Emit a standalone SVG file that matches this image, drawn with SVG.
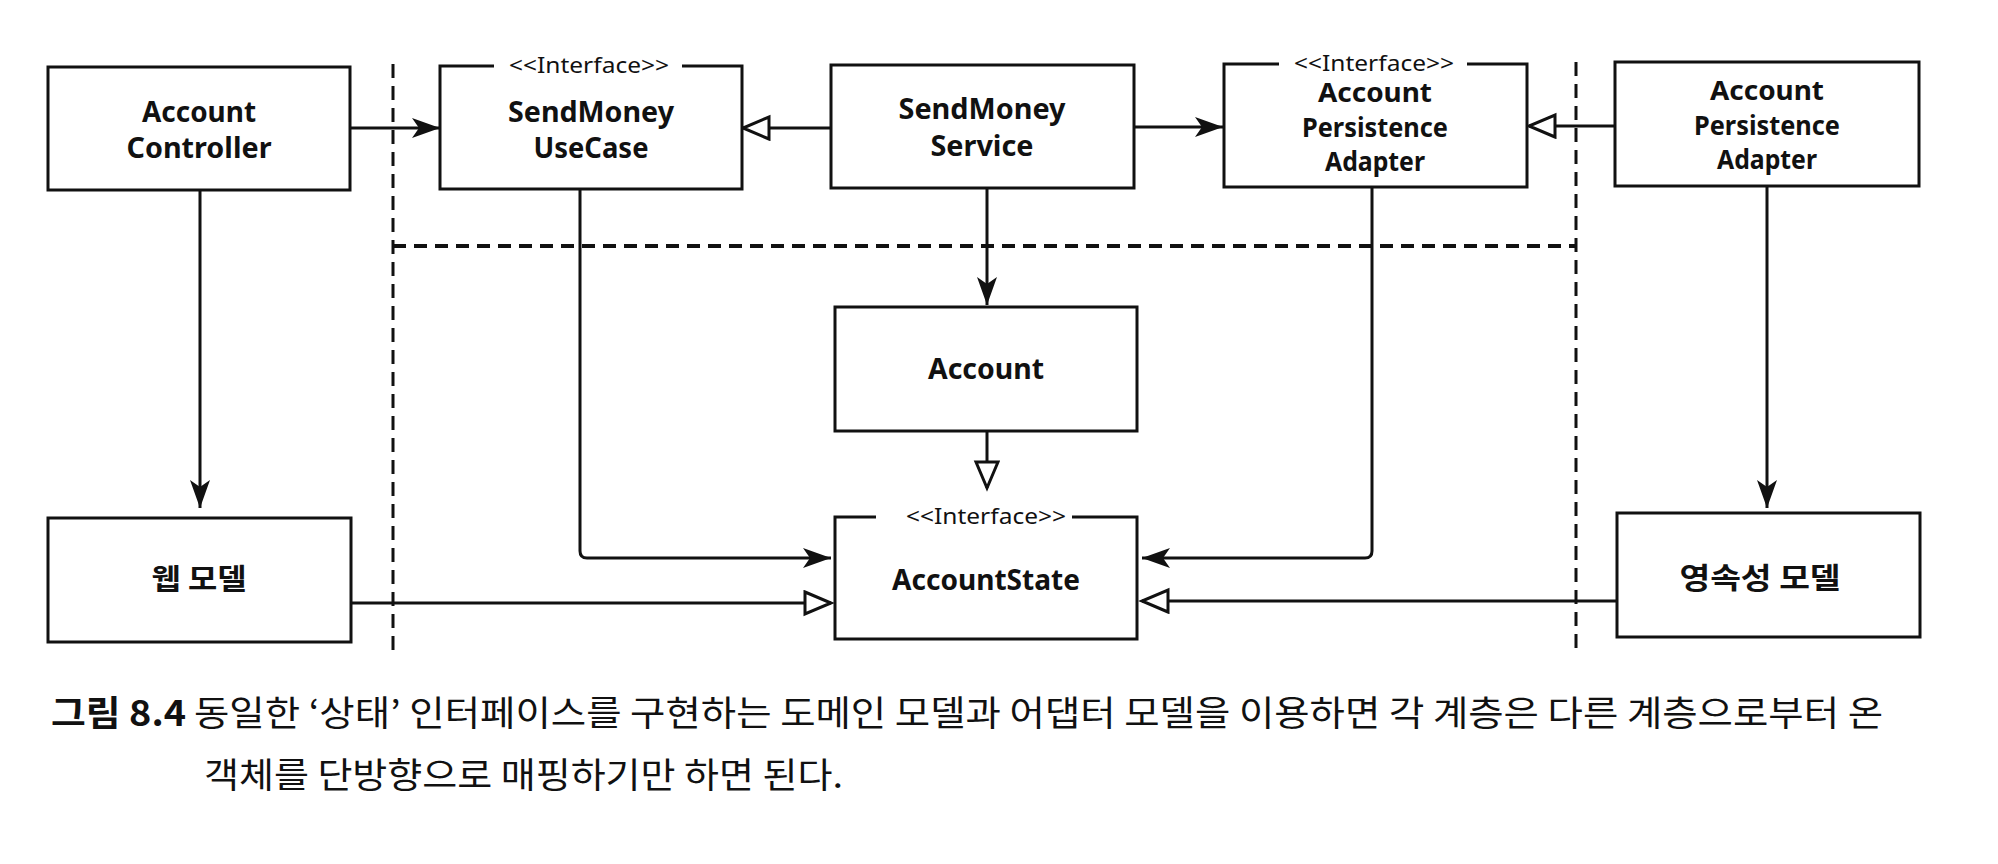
<svg xmlns="http://www.w3.org/2000/svg" width="1998" height="864" viewBox="0 0 1998 864">
<style>
.box{fill:#fff;stroke:#111;stroke-width:3}
.lbl{font-family:"Noto Sans","Liberation Sans",sans-serif;font-weight:bold;font-size:28px;fill:#111;text-anchor:middle}
.lbl3{font-family:"Noto Sans","Liberation Sans",sans-serif;font-weight:bold;font-size:26px;fill:#111;text-anchor:middle}
.kr{font-family:"Noto Sans CJK KR","Noto Sans",sans-serif;font-weight:bold;font-size:29px;fill:#111;text-anchor:middle}
.st{font-family:"Noto Sans","Liberation Sans",sans-serif;font-size:22px;fill:#111;text-anchor:middle}
.gap{fill:#fff;stroke:none}
.con{fill:none;stroke:#111;stroke-width:3}
.dash{fill:none;stroke:#111;stroke-width:3;stroke-dasharray:14 8}
.dashh{fill:none;stroke:#111;stroke-width:4;stroke-dasharray:13 8}
.cap{font-family:"Noto Sans CJK KR",sans-serif;font-size:35px;fill:#111}
</style>
<defs>
<marker id="fa" markerUnits="userSpaceOnUse" markerWidth="30" markerHeight="22" refX="28" refY="10" orient="auto">
<path d="M0,0 L28,10 L0,20 L7,10 Z" fill="#111"/>
</marker>
<marker id="ha" markerUnits="userSpaceOnUse" markerWidth="32" markerHeight="28" refX="28" refY="13" orient="auto">
<path d="M2,2 L28,13 L2,24 Z" fill="#fff" stroke="#111" stroke-width="3"/>
</marker>
</defs>
<rect width="1998" height="864" fill="#fff"/>

<g id="boundaries">
<line class="dash" x1="393" y1="64" x2="393" y2="656"/>
<line class="dash" x1="1576" y1="62" x2="1576" y2="652"/>
<line class="dashh" x1="393" y1="246" x2="1576" y2="246"/>
</g>

<g id="connectors">
<path class="con" d="M350,128 L440,128" marker-end="url(#fa)"/>
<path class="con" d="M831,128 L743,128" marker-end="url(#ha)"/>
<path class="con" d="M1134,127 L1223,127" marker-end="url(#fa)"/>
<path class="con" d="M1615,126 L1529,126" marker-end="url(#ha)"/>
<path class="con" d="M200,190 L200,508" marker-end="url(#fa)"/>
<path class="con" d="M987,188 L987,305" marker-end="url(#fa)"/>
<path class="con" d="M580,189 L580,551 Q580,558 587,558 L831,558" marker-end="url(#fa)"/>
<path class="con" d="M1372,187 L1372,551 Q1372,558 1365,558 L1142,558" marker-end="url(#fa)"/>
<path class="con" d="M987,431 L987,488" marker-end="url(#ha)"/>
<path class="con" d="M351,603 L831,603" marker-end="url(#ha)"/>
<path class="con" d="M1617,601 L1142,601" marker-end="url(#ha)"/>
<path class="con" d="M1767,186 L1767,508" marker-end="url(#fa)"/>
</g>

<g id="account-controller">
<rect class="box" x="48" y="67" width="302" height="123"/>
<text class="lbl" x="199" y="122" textLength="114" lengthAdjust="spacingAndGlyphs">Account</text>
<text class="lbl" x="199" y="158" textLength="145" lengthAdjust="spacingAndGlyphs">Controller</text>
</g>

<g id="sendmoney-usecase">
<rect class="box" x="440" y="66" width="302" height="123"/>
<rect class="gap" x="494" y="56" width="188" height="20"/>
<text class="st" x="589" y="73" textLength="160" lengthAdjust="spacingAndGlyphs">&lt;&lt;Interface&gt;&gt;</text>
<text class="lbl" x="591" y="122" textLength="166" lengthAdjust="spacingAndGlyphs">SendMoney</text>
<text class="lbl" x="591" y="158" textLength="115" lengthAdjust="spacingAndGlyphs">UseCase</text>
</g>

<g id="sendmoney-service">
<rect class="box" x="831" y="65" width="303" height="123"/>
<text class="lbl" x="982" y="119" textLength="167" lengthAdjust="spacingAndGlyphs">SendMoney</text>
<text class="lbl" x="982" y="156" textLength="103" lengthAdjust="spacingAndGlyphs">Service</text>
</g>

<g id="account-persistence-port">
<rect class="box" x="1224" y="64" width="303" height="123"/>
<rect class="gap" x="1279" y="54" width="188" height="20"/>
<text class="st" x="1374" y="71" textLength="160" lengthAdjust="spacingAndGlyphs">&lt;&lt;Interface&gt;&gt;</text>
<text class="lbl3" x="1375" y="102" textLength="114" lengthAdjust="spacingAndGlyphs">Account</text>
<text class="lbl3" x="1375" y="137" textLength="146" lengthAdjust="spacingAndGlyphs">Persistence</text>
<text class="lbl3" x="1375" y="171" textLength="100" lengthAdjust="spacingAndGlyphs">Adapter</text>
</g>

<g id="account-persistence-adapter">
<rect class="box" x="1615" y="62" width="304" height="124"/>
<text class="lbl3" x="1767" y="100" textLength="114" lengthAdjust="spacingAndGlyphs">Account</text>
<text class="lbl3" x="1767" y="135" textLength="146" lengthAdjust="spacingAndGlyphs">Persistence</text>
<text class="lbl3" x="1767" y="169" textLength="100" lengthAdjust="spacingAndGlyphs">Adapter</text>
</g>

<g id="account">
<rect class="box" x="835" y="307" width="302" height="124"/>
<text class="lbl" x="986" y="379" textLength="116" lengthAdjust="spacingAndGlyphs">Account</text>
</g>

<g id="account-state">
<rect class="box" x="835" y="517" width="302" height="122"/>
<rect class="gap" x="876" y="507" width="196" height="20"/>
<text class="st" x="986" y="524" textLength="160" lengthAdjust="spacingAndGlyphs">&lt;&lt;Interface&gt;&gt;</text>
<text class="lbl" x="986" y="590" textLength="188" lengthAdjust="spacingAndGlyphs">AccountState</text>
</g>

<g id="web-model">
<rect class="box" x="48" y="518" width="303" height="124"/>
<text class="kr" x="199" y="590" textLength="95" lengthAdjust="spacingAndGlyphs">웹 모델</text>
</g>

<g id="persistence-model">
<rect class="box" x="1617" y="513" width="303" height="124"/>
<text class="kr" x="1760" y="589" textLength="161" lengthAdjust="spacingAndGlyphs">영속성 모델</text>
</g>

<g id="caption">
<text class="cap" x="51" y="726" font-weight="bold" textLength="135" lengthAdjust="spacingAndGlyphs">그림 8.4</text>
<text class="cap" x="194" y="726" textLength="1689" lengthAdjust="spacingAndGlyphs">동일한 ‘상태’ 인터페이스를 구현하는 도메인 모델과 어댑터 모델을 이용하면 각 계층은 다른 계층으로부터 온</text>
<text class="cap" x="204" y="788" textLength="639" lengthAdjust="spacingAndGlyphs">객체를 단방향으로 매핑하기만 하면 된다.</text>
</g>
</svg>
